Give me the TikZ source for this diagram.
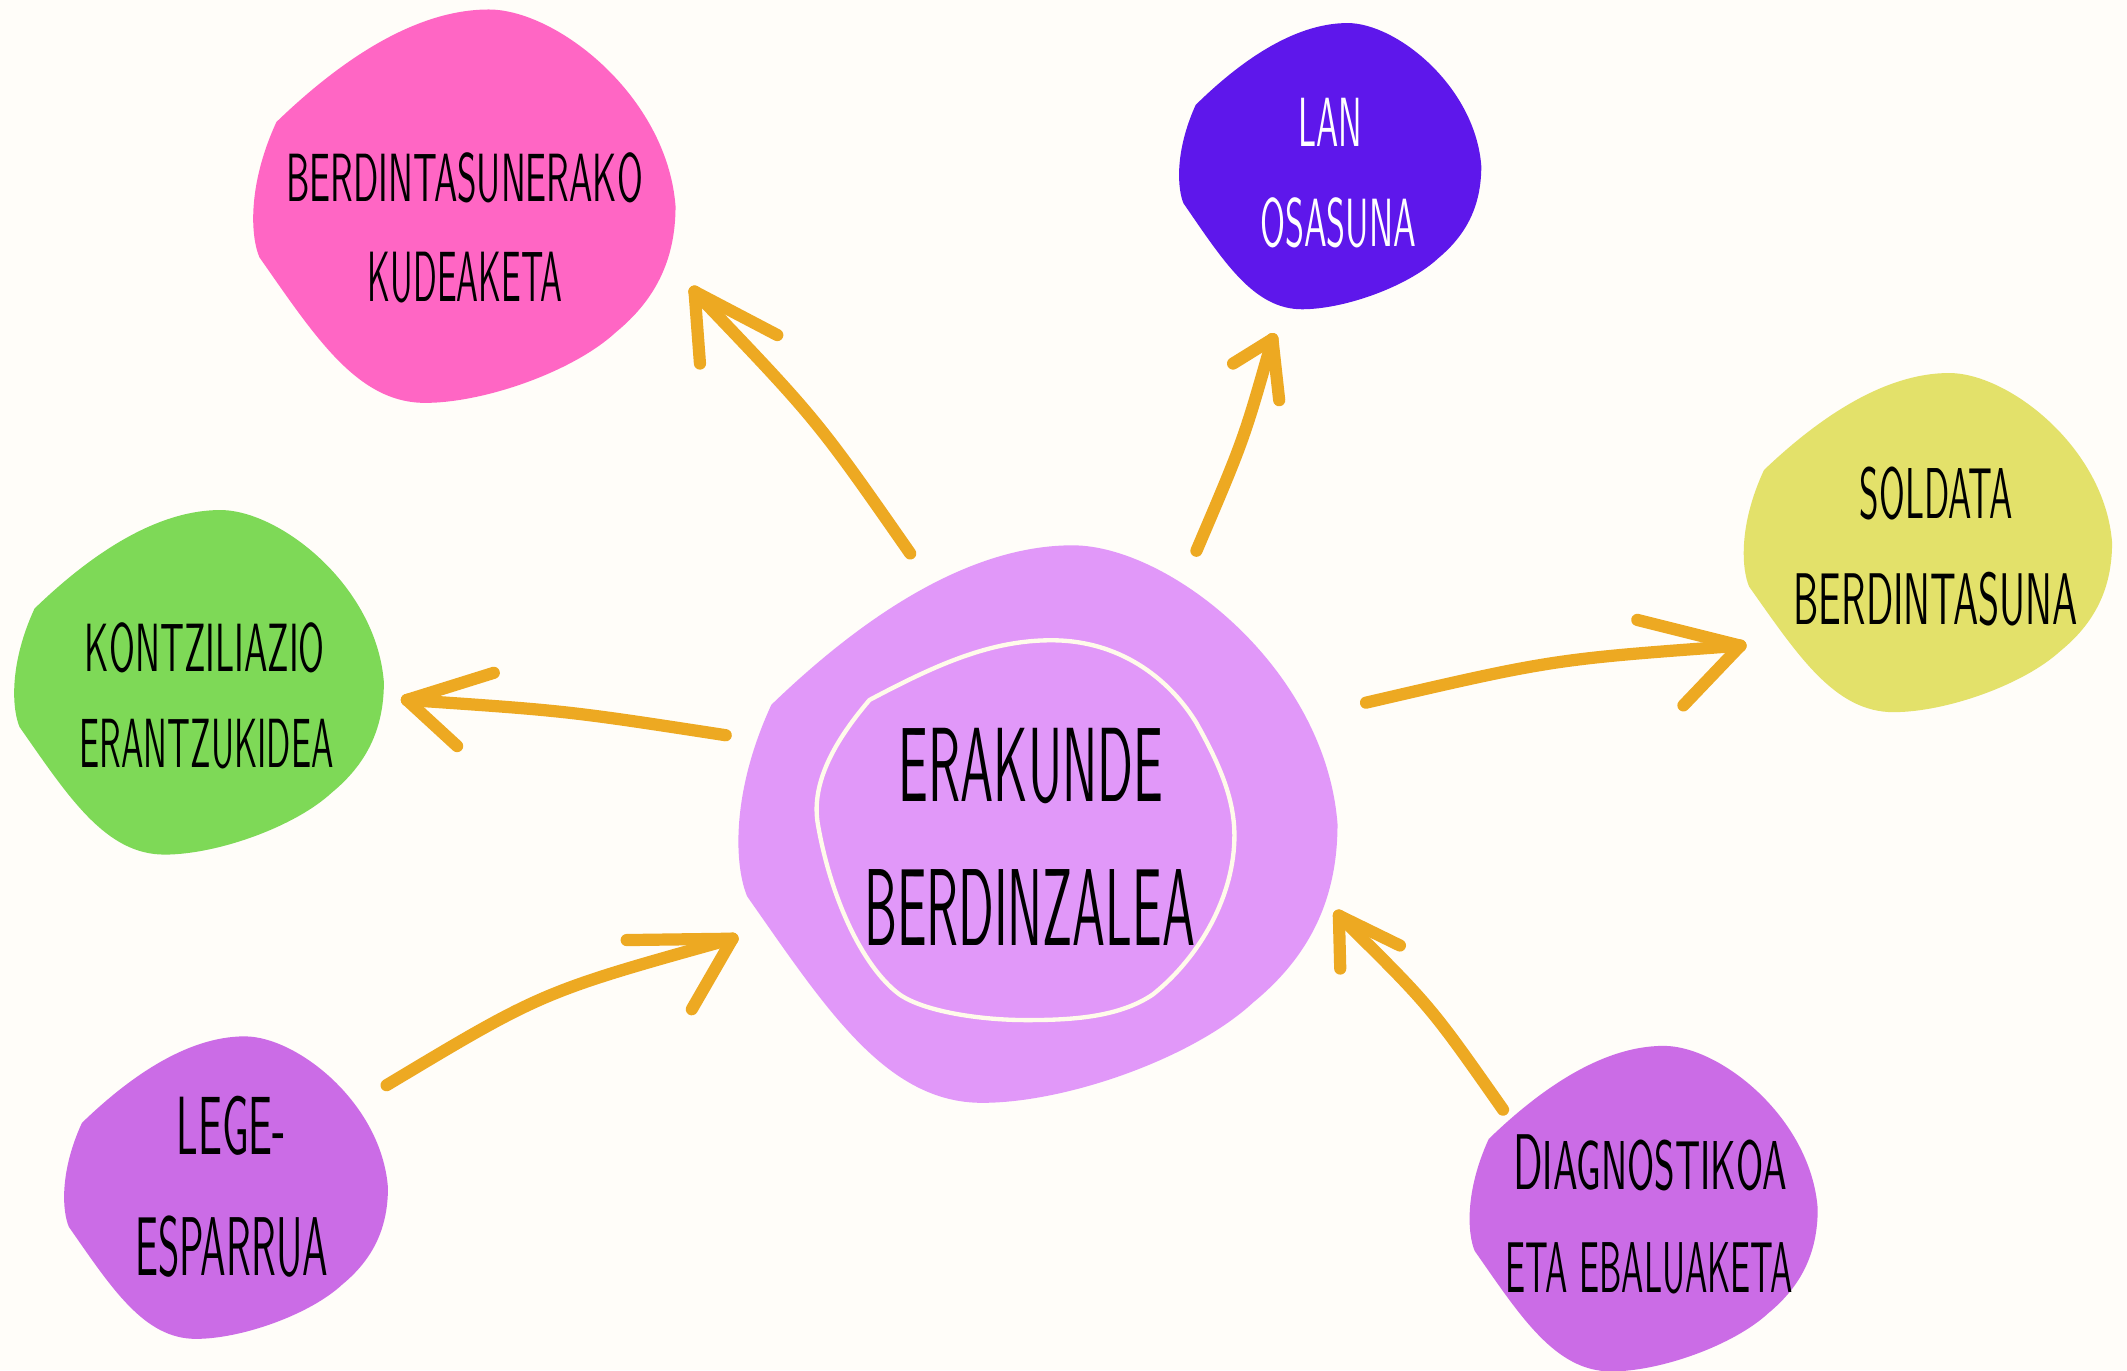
\documentclass[tikz,border=0pt]{standalone}
\usepackage{graphicx}
\definecolor{bg}{HTML}{FFFDF9}
\definecolor{arrowc}{HTML}{EDA922}
\definecolor{pinkb}{HTML}{FF66C4}
\definecolor{violetb}{HTML}{5E17EB}
\definecolor{yellowb}{HTML}{E3E16A}
\definecolor{greenb}{HTML}{7ED957}
\definecolor{purpleb}{HTML}{CB6CE6}
\definecolor{centerb}{HTML}{E198F9}
\definecolor{innerl}{HTML}{FFFBEA}
\newcommand\myblob[5]{%
  \begin{scope}[shift={(#2,#3)}, xscale=#4, yscale=#5]
    \fill[#1] (0.06,0.286) .. controls (0.20,0.14) and (0.38,0) .. (0.56,0)
      .. controls (0.72,0) and (0.98,0.22) .. (1,0.5)
      .. controls (1,0.64) and (0.95,0.74) .. (0.86,0.82)
      .. controls (0.76,0.92) and (0.55,1) .. (0.41,1)
      .. controls (0.25,1) and (0.15,0.83) .. (0.02,0.63)
      .. controls (0,0.58) and (-0.01,0.45) .. (0.06,0.286) -- cycle;
  \end{scope}}
\newcommand\myarrow[5]{%
  \draw[arrowline] (#1s) .. controls (#5) .. (#1t);
  \draw[arrowline] (#1t) -- (#1l);
  \draw[arrowline] (#1t) -- (#1r);}
\begin{document}
\begin{tikzpicture}[x=0.5pt,y=-0.5pt,
  arrowline/.style={draw=arrowc, line width=4.5pt, line cap=round, line join=round},
  lbl/.style={inner sep=0pt, font=\sffamily}]
\useasboundingbox (0,0) rectangle (1568,1010);
\fill[bg] (0,0) rectangle (1568,1010);
% blobs
\myblob{pinkb}{185}{7}{313}{290}
\myblob{violetb}{868}{17}{224}{211}
\myblob{yellowb}{1284}{275}{273}{250}
\myblob{greenb}{9}{376}{274}{254}
\myblob{purpleb}{46}{764}{240}{223}
\myblob{purpleb}{1082}{771}{258}{240}
\myblob{centerb}{542}{402}{444}{411}
% inner outline
\draw[innerl, line width=1.6pt, line join=round]
  (641,516) .. controls (690,490) and (730,472) .. (775,472)
  .. controls (830,472) and (865,505) .. (882,533)
  .. controls (900,565) and (910,590) .. (910,616)
  .. controls (910,660) and (885,705) .. (850,733)
  .. controls (825,750) and (790,752) .. (757,752)
  .. controls (720,752) and (680,745) .. (663,733)
  .. controls (635,712) and (612,660) .. (603,608)
  .. controls (598,580) and (612,550) .. (641,516) -- cycle;
% arrow coordinates
\coordinate (a1s) at (671,408); \coordinate (a1t) at (512,215);
\coordinate (a1l) at (573,247); \coordinate (a1r) at (516,268);
\coordinate (a2s) at (882,406); \coordinate (a2t) at (938,250);
\coordinate (a2l) at (909,268); \coordinate (a2r) at (943,295);
\coordinate (a3s) at (1007,518); \coordinate (a3t) at (1283,476);
\coordinate (a3l) at (1207,457); \coordinate (a3r) at (1241,520);
\coordinate (a4s) at (535,542); \coordinate (a4t) at (300,516);
\coordinate (a4l) at (364,496); \coordinate (a4r) at (337,550);
\coordinate (a5s) at (285,800); \coordinate (a5t) at (540,692);
\coordinate (a5l) at (462,693); \coordinate (a5r) at (510,744);
\coordinate (a6s) at (1108,818); \coordinate (a6t) at (987,675);
\coordinate (a6l) at (1032,697); \coordinate (a6r) at (988,714);
\myarrow{a1}{}{}{}{602,309}
\myarrow{a2}{}{}{}{917,324}
\myarrow{a3}{}{}{}{1145,486}
\myarrow{a4}{}{}{}{418,524}
\myarrow{a5}{}{}{}{400,731}
\myarrow{a6}{}{}{}{1054,741}
% labels
\node[lbl] (c1) at (760,565) {\resizebox{97.5pt}{27pt}{ERAKUNDE}};
\node[lbl] (c2) at (759,669) {\resizebox{122pt}{28pt}{BERDINZALEA}};
\node[lbl] (p1) at (342.5,131) {\resizebox{131.5pt}{18pt}{BERDINTASUNERAKO}};
\node[lbl] (p2) at (343,205) {\resizebox{71.75pt}{18.2pt}{KUDEAKETA}};
\node[lbl] (g1) at (151,477.5) {\resizebox{88.5pt}{18pt}{KONTZILIAZIO}};
\node[lbl] (g2) at (152.3,548.3) {\resizebox{93.5pt}{17.8pt}{ERANTZUKIDEA}};
\node[lbl, text=white] (v1) at (980.5,90.2) {\resizebox{23.5pt}{17.8pt}{LAN}};
\node[lbl, text=white] (v2) at (986.5,164) {\resizebox{57.5pt}{18pt}{OSASUNA}};
\node[lbl] (y1) at (1427.5,363.6) {\resizebox{56.5pt}{19pt}{SOLDATA}};
\node[lbl] (y2) at (1427,441.6) {\resizebox{104.75pt}{19.3pt}{BERDINTASUNA}};
\node[lbl] (l1) at (170.6,830) {\resizebox{40.3pt}{21.5pt}{LEGE-}};
\node[lbl] (l2) at (170.8,919.2) {\resizebox{71pt}{22pt}{ESPARRUA}};
\node[lbl] (d1) at (1216.5,857.6) {\resizebox{101pt}{20.2pt}{\fontsize{10}{12}\selectfont D\fontsize{8.76}{10}\selectfont IAGNOSTIKOA}};
\node[lbl] (d2) at (1216,935) {\resizebox{106pt}{18.4pt}{ETA EBALUAKETA}};
\end{tikzpicture}
\end{document}
